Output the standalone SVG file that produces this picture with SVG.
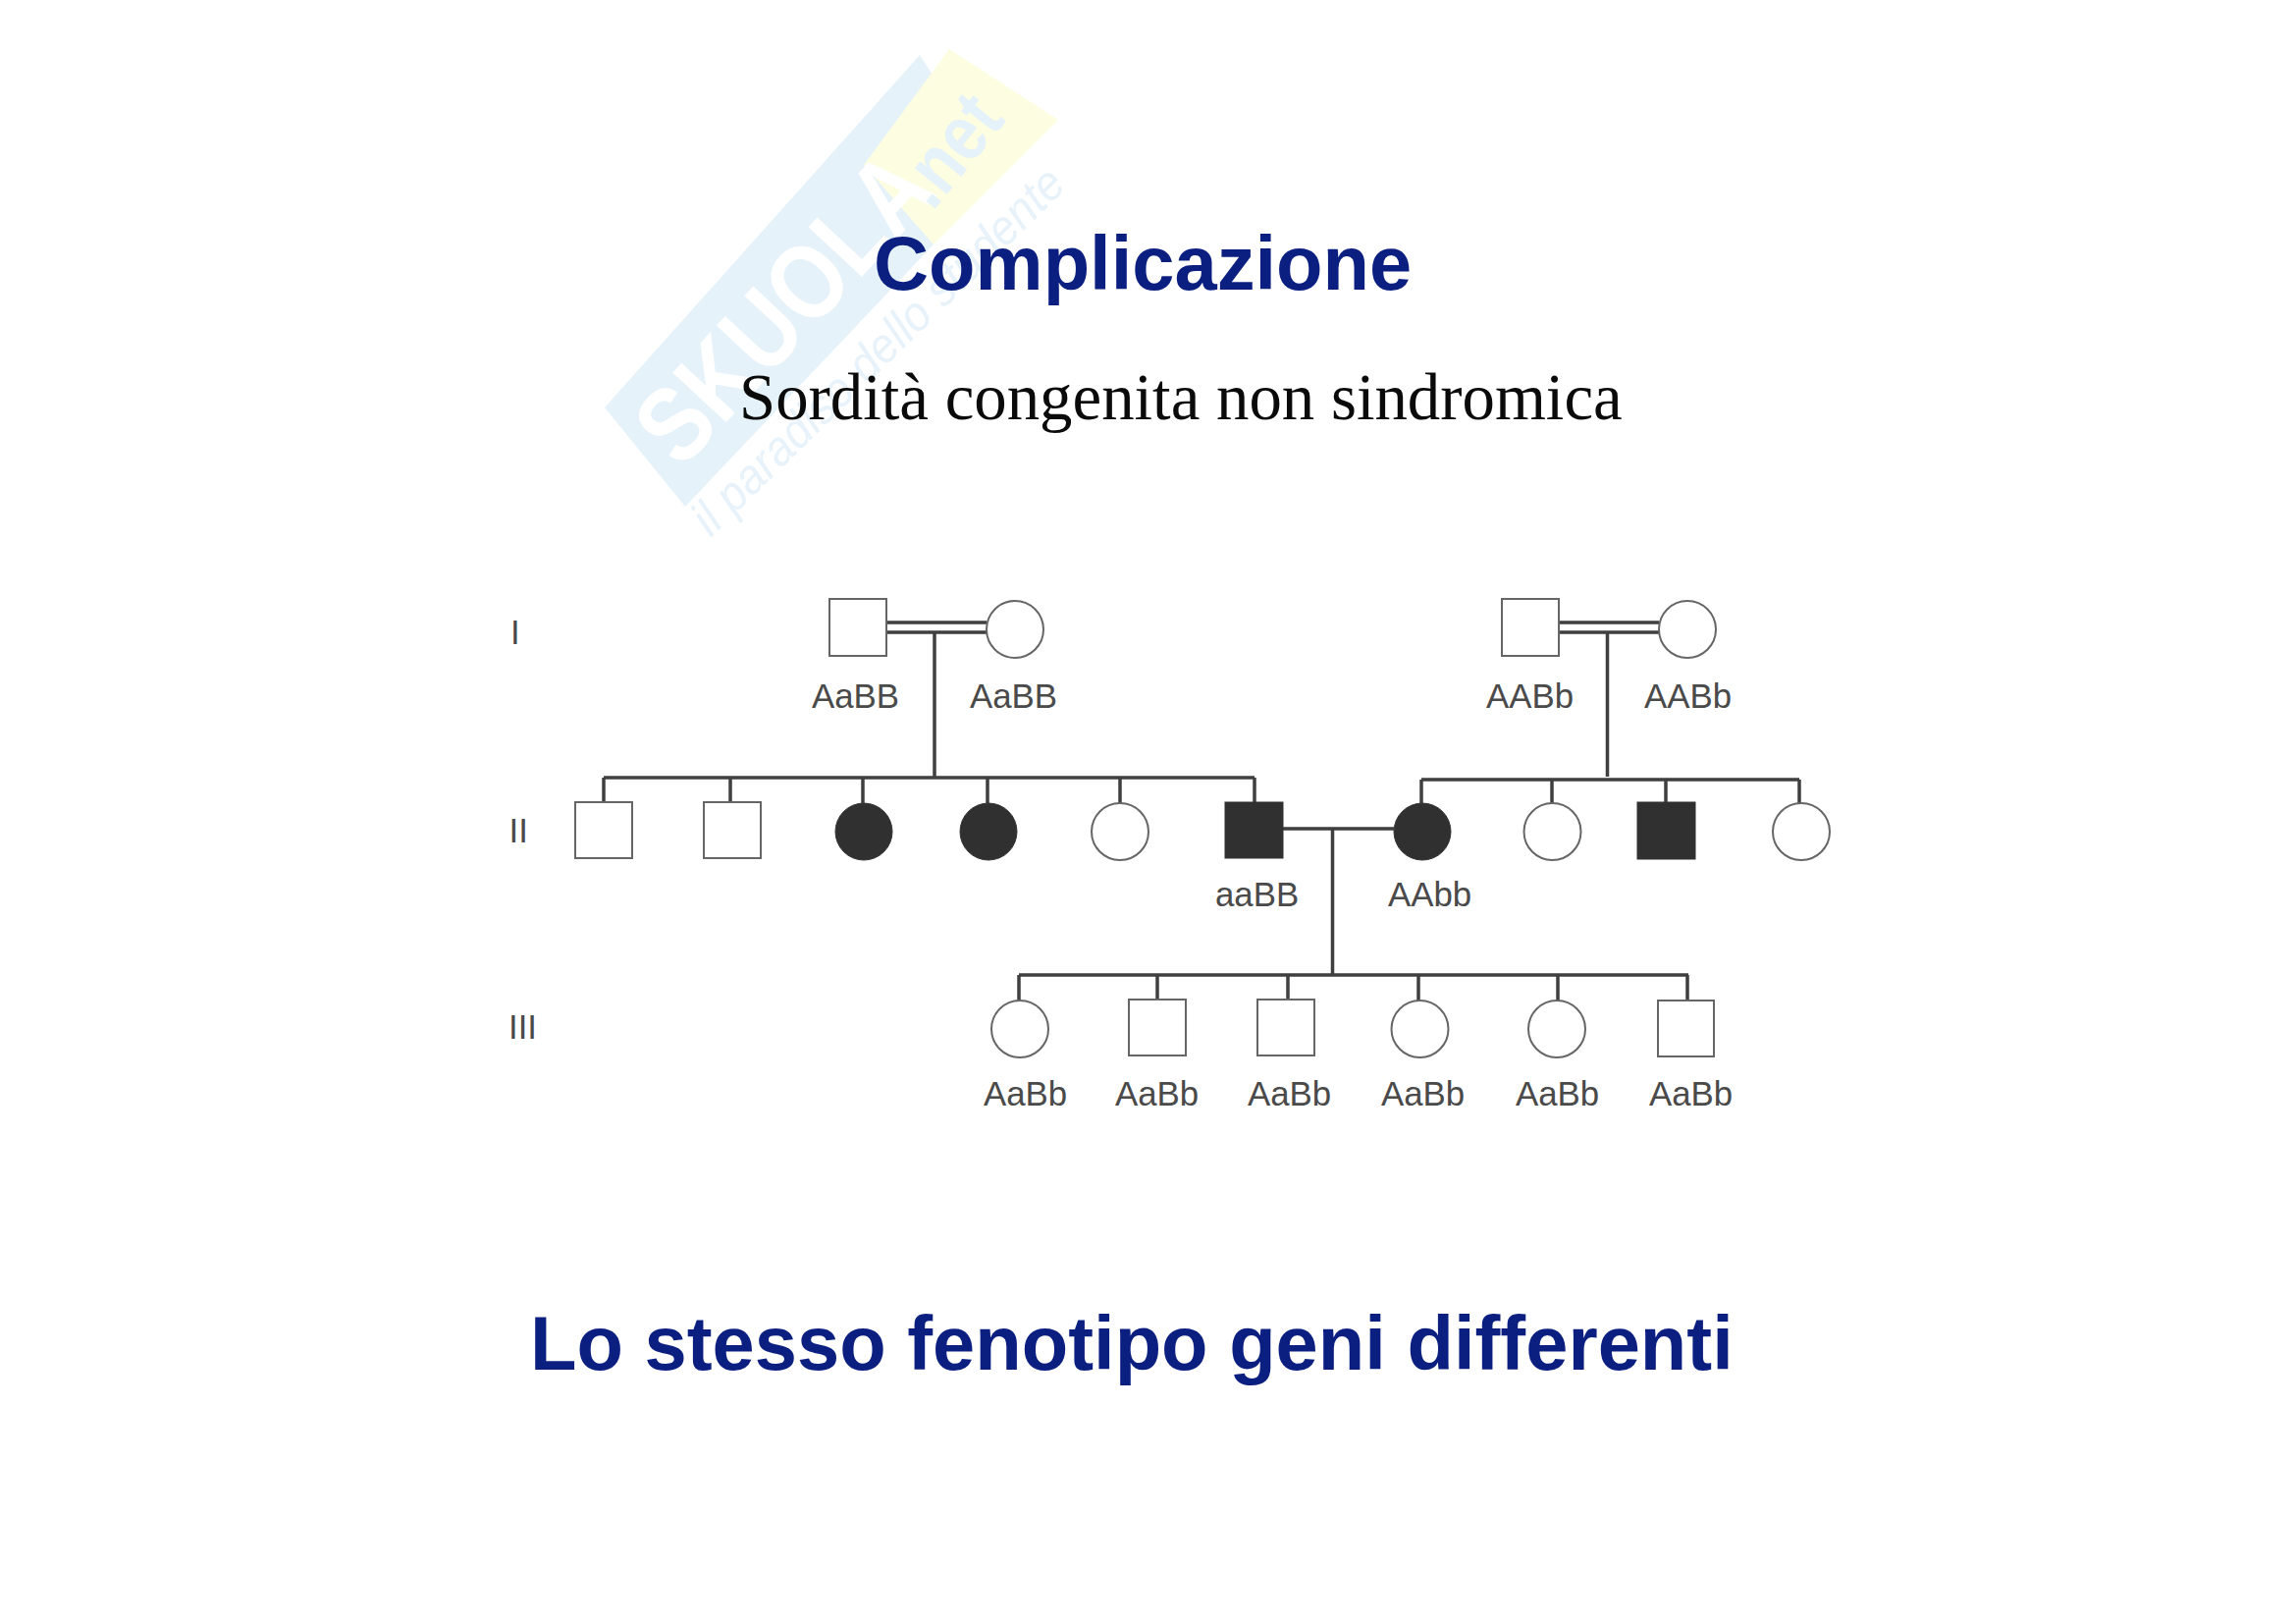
<svg xmlns="http://www.w3.org/2000/svg" width="2339" height="1653" viewBox="0 0 2339 1653">
<style>
.t{font-family:"Liberation Sans",Arial,sans-serif;font-weight:700;font-size:77.7px;fill:#0b1f80}
.s{font-family:"Liberation Serif","Times New Roman",serif;font-size:66.8px;fill:#0a0a0a}
.l{font-family:"Liberation Sans",Arial,sans-serif;font-size:34.8px;fill:#4a4a4a}
.o{fill:#fff;stroke:#666;stroke-width:2}
.f{fill:#303030;stroke:#333;stroke-width:1}
.c{fill:none;stroke:#3f3f3f;stroke-width:3.5}
</style>
<rect width="2339" height="1653" fill="#fff"/>
<g id="watermark">
<polygon points="616,415 937,56 1000,155 951,249 698,516" fill="#e6f2f9"/>
<polygon points="967,50 1078,122 951,249 880,168" fill="#fdfde2"/>
<text x="694" y="479" transform="rotate(-47 694 479)" textLength="385" lengthAdjust="spacingAndGlyphs" font-family="Liberation Sans, sans-serif" font-weight="700" font-size="108" fill="#fff">SKUOLA</text>
<text x="950" y="216" transform="rotate(-51 950 216)" textLength="120" lengthAdjust="spacingAndGlyphs" font-family="Liberation Sans, sans-serif" font-weight="700" font-size="80" fill="#e6f2f9">.net</text>
<text x="724" y="548" transform="rotate(-44.5 724 548)" textLength="510" lengthAdjust="spacingAndGlyphs" font-family="Liberation Sans, sans-serif" font-style="italic" font-size="50" fill="#e8f2fa">il paradiso dello studente</text>
</g>
<g id="titles">
<text class="t" x="890" y="295">Complicazione</text>
<text class="s" x="753" y="427">Sordità congenita non sindromica</text>
<text class="t" x="540" y="1395">Lo stesso fenotipo geni differenti</text>
</g>
<g id="connectors">
<path class="c" d="M903 634H1005M903 644H1005M952 644V792"/>
<path class="c" d="M615 792H1278M615 792V817M744 792V817M879 792V818M1006 792V818M1141 792V818M1278 792V817"/>
<path class="c" d="M1588 634H1690M1588 644H1690M1637.500 644V791"/>
<path class="c" d="M1448 794H1833M1448 794V818M1581 794V818M1697 794V817M1833 794V818"/>
<path class="c" d="M1307 844H1420M1357.500 844V993"/>
<path class="c" d="M1038 993H1720M1038 993V1019M1179 993V1018M1312 993V1018M1445 993V1019M1587 993V1019M1719 993V1019"/>
</g>
<g id="generations">
<text class="l" x="520" y="656">I</text>
<text class="l" x="518.500" y="858">II</text>
<text class="l" x="518" y="1058">III</text>
</g>
<g id="I-1"><rect class="o" x="845" y="610" width="58" height="58"/><text class="l" x="827" y="721">AaBB</text></g>
<g id="I-2"><ellipse class="o" cx="1034" cy="641" rx="29" ry="29"/><text class="l" x="988" y="721">AaBB</text></g>
<g id="I-3"><rect class="o" x="1530" y="610" width="58" height="58"/><text class="l" x="1514" y="721">AABb</text></g>
<g id="I-4"><ellipse class="o" cx="1719" cy="641" rx="29" ry="29"/><text class="l" x="1675" y="721">AABb</text></g>
<g id="II-1"><rect class="o" x="586" y="817" width="58" height="57"/></g>
<g id="II-2"><rect class="o" x="717" y="817" width="58" height="57"/></g>
<g id="II-3"><ellipse class="f" cx="880" cy="847" rx="29" ry="29"/></g>
<g id="II-4"><ellipse class="f" cx="1007" cy="847" rx="29" ry="29"/></g>
<g id="II-5"><ellipse class="o" cx="1141" cy="847" rx="29" ry="29"/></g>
<g id="II-6"><rect class="f" x="1248" y="817" width="59" height="57"/><text class="l" x="1238" y="923">aaBB</text></g>
<g id="II-7"><ellipse class="f" cx="1449" cy="847" rx="29" ry="29"/><text class="l" x="1414" y="923">AAbb</text></g>
<g id="II-8"><ellipse class="o" cx="1581.500" cy="847" rx="29" ry="29"/></g>
<g id="II-9"><rect class="f" x="1668" y="817" width="59" height="58"/></g>
<g id="II-10"><ellipse class="o" cx="1835" cy="847" rx="29" ry="29"/></g>
<g id="III-1"><ellipse class="o" cx="1039" cy="1048" rx="29" ry="29"/><text class="l" x="1002" y="1126">AaBb</text></g>
<g id="III-2"><rect class="o" x="1150" y="1018" width="58" height="57"/><text class="l" x="1136" y="1126">AaBb</text></g>
<g id="III-3"><rect class="o" x="1281" y="1018" width="58" height="57"/><text class="l" x="1271" y="1126">AaBb</text></g>
<g id="III-4"><ellipse class="o" cx="1446.500" cy="1048" rx="29" ry="29"/><text class="l" x="1407" y="1126">AaBb</text></g>
<g id="III-5"><ellipse class="o" cx="1586" cy="1048" rx="29" ry="29"/><text class="l" x="1544" y="1126">AaBb</text></g>
<g id="III-6"><rect class="o" x="1689" y="1019" width="57" height="57"/><text class="l" x="1680" y="1126">AaBb</text></g>
</svg>
